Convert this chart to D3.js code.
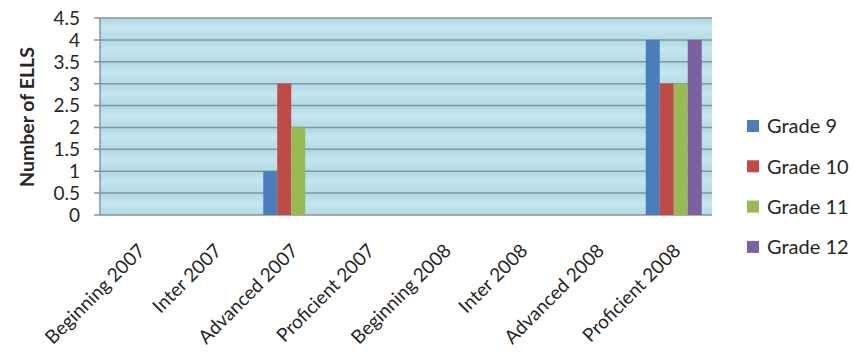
<!DOCTYPE html>
<html>
<head>
<meta charset="utf-8">
<script src="https://cdn.jsdelivr.net/npm/d3@7"></script>
<style>
  body { margin: 0; background: #fff; }
  text { font-family: Lato, "Open Sans", sans-serif; fill: #262626; }
</style>
</head>
<body>
<div id="chart"></div>
<script>
// data
var categories = ["Beginning 2007", "Inter 2007", "Advanced 2007", "Proficient 2007",
                  "Beginning 2008", "Inter 2008", "Advanced 2008", "Proficient 2008"];
var grades = ["Grade 9", "Grade 10", "Grade 11", "Grade 12"];
var grade9  = [0, 0, 1, 0, 0, 0, 0, 4];
var grade10 = [0, 0, 3, 0, 0, 0, 0, 3];
var grade11 = [0, 0, 2, 0, 0, 0, 0, 3];
var grade12 = [0, 0, 0, 0, 0, 0, 0, 4];
var yTicks = [0, 0.5, 1, 1.5, 2, 2.5, 3, 3.5, 4, 4.5];
var colors = ["#4a7ebb", "#be4b48", "#98b954", "#7d60a0"];

var series = [grade9, grade10, grade11, grade12];

var width = 855, height = 359;
var margin = { top: 18, right: 143, bottom: 144, left: 100 };
var innerW = width - margin.left - margin.right,
    innerH = height - margin.top - margin.bottom;

var svg = d3.select("#chart")
    .append("svg")
    .attr("width", width)
    .attr("height", height);

var g = svg.append("g")
    .attr("transform", "translate(" + margin.left + "," + margin.top + ")");

var x = d3.scaleBand().domain(categories).range([0, innerW]).paddingInner(0).paddingOuter(0);
var x1 = d3.scaleBand().domain(grades).range([0, 56]);
var y = d3.scaleLinear().domain([0, 4.5]).range([innerH, 0]);

// striped background: each half-unit band gets a soft vertical gradient
var defs = svg.append("defs");
var grad = defs.append("linearGradient")
    .attr("id", "band").attr("x1", 0).attr("y1", 0).attr("x2", 0).attr("y2", 1);
grad.append("stop").attr("offset", "0%").attr("stop-color", "#aed8e4");
grad.append("stop").attr("offset", "45%").attr("stop-color", "#c4e6ef");
grad.append("stop").attr("offset", "100%").attr("stop-color", "#b3dbe6");

g.selectAll("rect.band")
    .data(yTicks.slice(0, -1))
    .enter()
    .append("rect")
    .attr("class", "band")
    .attr("x", 0)
    .attr("y", function(d) { return y(d + 0.5); })
    .attr("width", innerW)
    .attr("height", function(d) { return y(d) - y(d + 0.5); })
    .attr("fill", "url(#band)");

// gridlines + ticks
g.selectAll("line.grid")
    .data(yTicks)
    .enter()
    .append("line")
    .attr("x1", -6)
    .attr("x2", innerW)
    .attr("y1", function(d) { return y(d); })
    .attr("y2", function(d) { return y(d); })
    .attr("stroke", "#8a9499")
    .attr("stroke-width", 1.5);

g.append("line")
    .attr("x1", 0).attr("x2", 0)
    .attr("y1", 0).attr("y2", innerH)
    .attr("stroke", "#8a9499")
    .attr("stroke-width", 1.5);

g.selectAll("text.ytick")
    .data(yTicks)
    .enter()
    .append("text")
    .attr("x", -20)
    .attr("y", function(d) { return y(d); })
    .attr("dy", "0.36em")
    .attr("text-anchor", "end")
    .style("font-size", "19px")
    .text(function(d) { return d; });

// bars
var groups = g.selectAll("g.cat")
    .data(categories)
    .enter()
    .append("g")
    .attr("transform", function(d) {
        return "translate(" + (x(d) + x.bandwidth() / 2 - 28) + ",0)";
    });

groups.selectAll("rect")
    .data(function(d, i) {
        return series.map(function(s, k) { return { grade: grades[k], value: s[i], k: k }; });
    })
    .enter()
    .append("rect")
    .attr("x", function(d) { return x1(d.grade); })
    .attr("y", function(d) { return y(d.value); })
    .attr("width", x1.bandwidth())
    .attr("height", function(d) { return innerH - y(d.value); })
    .attr("fill", function(d) { return colors[d.k]; });

// x labels rotated
g.selectAll("text.xlab")
    .data(categories)
    .enter()
    .append("text")
    .attr("text-anchor", "end")
    .style("font-size", "19px")
    .attr("transform", function(d) {
        return "translate(" + (x(d) + x.bandwidth() / 2 + 8) + "," + (innerH + 37) + ") rotate(-45)";
    })
    .text(function(d) { return d; });

// y title
svg.append("text")
    .attr("transform", "translate(34," + (margin.top + 99) + ") rotate(-90)")
    .attr("text-anchor", "middle")
    .style("font-size", "19.5px")
    .style("font-weight", "bold")
    .text("Number of ELLS");

// legend
var legend = svg.append("g").attr("transform", "translate(747,126)");
var items = legend.selectAll("g")
    .data(grades)
    .enter()
    .append("g")
    .attr("transform", function(d, i) { return "translate(0," + (i * 40.3) + ")"; });
items.append("rect")
    .attr("x", 0).attr("y", -6)
    .attr("width", 12).attr("height", 12)
    .attr("fill", function(d, i) { return colors[i]; });
items.append("text")
    .attr("x", 20)
    .attr("dy", "0.36em")
    .style("font-size", "20px")
    .text(function(d) { return d; });
</script>
</body>
</html>
